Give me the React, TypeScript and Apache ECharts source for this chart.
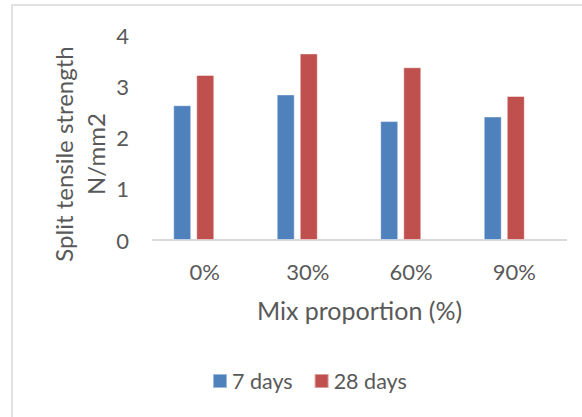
import React, { useEffect, useRef } from "react";
import * as echarts from "echarts";

const categories = ["0%", "30%", "60%", "90%"];
const days7 = [2.63, 2.84, 2.32, 2.41];
const days28 = [3.22, 3.64, 3.37, 2.81];
const yTicks = { min: 0, max: 4, interval: 1 };

const FONT = "Lato";
const TXT = "#595959";

export default function App() {
  const ref = useRef<HTMLDivElement>(null);
  useEffect(() => {
    if (!ref.current) return;
    const chart = echarts.init(ref.current, null, { renderer: "svg" });
    chart.setOption({
      animation: false,
      backgroundColor: "#ffffff",
      textStyle: { fontFamily: FONT },
      grid: [
        { left: 142, right: 26, top: 35, bottom: 177 },
        { left: 153, right: 16, top: 35, bottom: 177 },
      ],
      xAxis: [
        {
          gridIndex: 0,
          type: "category",
          data: categories,
          show: false,
        },
        {
          gridIndex: 1,
          type: "category",
          data: categories,
          axisLine: { lineStyle: { color: "#D9D9D9", width: 2 } },
          axisTick: { show: false },
          axisLabel: { color: TXT, fontSize: 22, margin: 20, fontFamily: FONT },
          name: "Mix proportion (%)",
          nameLocation: "middle",
          nameGap: 57,
          nameTextStyle: { color: TXT, fontSize: 25, fontFamily: FONT },
        },
      ],
      yAxis: [
        { gridIndex: 0, type: "value", ...yTicks, show: false },
        {
          gridIndex: 1,
          type: "value",
          ...yTicks,
          axisLine: { show: false },
          axisTick: { show: false },
          splitLine: { show: false },
          axisLabel: { color: TXT, fontSize: 22, margin: 24, fontFamily: FONT },
        },
      ],
      legend: {
        data: ["7 days", "28 days"],
        left: 212,
        top: 370,
        padding: 0,
        itemWidth: 14,
        itemHeight: 14,
        itemGap: 21,
        icon: "rect",
        textStyle: { color: TXT, fontSize: 21.5, fontFamily: FONT },
      },
      graphic: [
        {
          type: "rect",
          shape: { x: 12, y: 5, width: 600, height: 450 },
          style: { fill: "none", stroke: "#D9D9D9", lineWidth: 1.5 },
          silent: true,
        },
        {
          type: "text",
          x: 79,
          y: 154,
          rotation: Math.PI / 2,
          style: {
            text: "Split tensile strength\nN/mm2",
            fill: TXT,
            font: `24px ${FONT}`,
            align: "center",
            verticalAlign: "middle",
            lineHeight: 32,
          },
        },
      ],
      series: [
        {
          name: "7 days",
          type: "bar",
          xAxisIndex: 0,
          yAxisIndex: 0,
          data: days7,
          barWidth: 18,
          barGap: "28%",
          itemStyle: { color: "#4F81BD", borderColor: "rgba(255,255,255,0.45)", borderWidth: 1 },
        },
        {
          name: "28 days",
          type: "bar",
          xAxisIndex: 0,
          yAxisIndex: 0,
          data: days28,
          barWidth: 18,
          barGap: "28%",
          itemStyle: { color: "#C0504D", borderColor: "rgba(255,255,255,0.45)", borderWidth: 1 },
        },
      ],
    });
    return () => chart.dispose();
  }, []);
  return <div ref={ref} style={{ width: 582, height: 417, position: "absolute", left: 0, top: 0 }} />;
}
